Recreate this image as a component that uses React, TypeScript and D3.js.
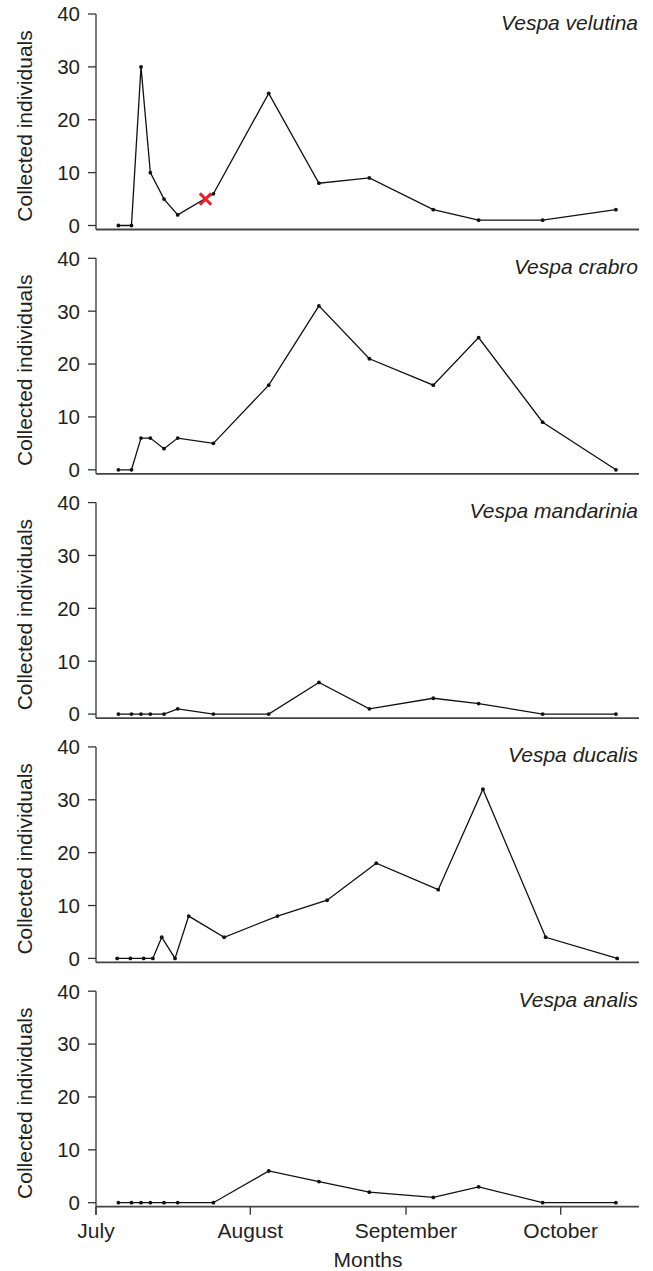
import React from "react";
import * as d3 from "d3";

// ---- data ----
const species = ["Vespa velutina", "Vespa crabro", "Vespa mandarinia", "Vespa ducalis", "Vespa analis"];

// sampling dates (month-day hour)
const datesCommon = [
  "07-05 12", "07-08 03", "07-10 01", "07-11 22", "07-14 16", "07-17 10", "07-24 14",
  "08-04 16", "08-14 16", "08-24 17", "09-06 07", "09-15 02", "09-27 12", "10-11 17",
];
const datesDucalis = [
  "07-05 06", "07-07 22", "07-10 14", "07-12 10", "07-14 05", "07-16 21", "07-19 15", "07-26 18",
  "08-06 10", "08-16 07", "08-26 02", "09-07 06", "09-15 22", "09-28 02", "10-11 23",
];

const velutina = [0, 0, 30, 10, 5, 2, 6, 25, 8, 9, 3, 1, 1, 3];
const crabro = [0, 0, 6, 6, 4, 6, 5, 16, 31, 21, 16, 25, 9, 0];
const mandarinia = [0, 0, 0, 0, 0, 1, 0, 0, 6, 1, 3, 2, 0, 0];
const ducalis = [0, 0, 0, 0, 4, 0, 8, 4, 8, 11, 18, 13, 32, 4, 0];
const analis = [0, 0, 0, 0, 0, 0, 0, 6, 4, 2, 1, 3, 0, 0];

const seriesValues = [velutina, crabro, mandarinia, ducalis, analis];
const seriesDates = [datesCommon, datesCommon, datesCommon, datesDucalis, datesCommon];

// red marker on Vespa velutina
const markerDate = "07-23 00";
const markerValue = 5;

const monthTicks = ["07-01 00", "08-01 00", "09-01 00", "10-01 00"];
const monthLabels = ["July", "August", "September", "October"];
const yTicks = [0, 10, 20, 30, 40];

const parse = d3.timeParse("%m-%d %H");

// ---- layout ----
const W = 653;
const H = 1271;
const axisX = 96;
const axisRight = 639;
const top0 = 14;
const step = 244.3;
const plotH = 211.5;
const gap = 4;
const FONT = "'Liberation Sans', Arial, Helvetica, sans-serif";
const textColor = "#231f20";

const x = d3
  .scaleTime()
  .domain(monthTicks.map((d) => parse(d) as Date))
  .range([96, 250.3, 406, 560.7]);

export default function App() {
  return (
    <svg
      width={W}
      height={H}
      style={{ position: "absolute", left: 0, top: 0, background: "#fff" }}
      fontFamily={FONT}
    >
      {species.map((name, i) => {
        const top = top0 + step * i;
        const y = d3.scaleLinear().domain([0, 40]).range([top + plotH, top]);
        const baseY = y(0) + gap;
        const pts = seriesDates[i].map((d, k) => [x(parse(d) as Date), y(seriesValues[i][k])] as [number, number]);
        const line = d3.line()(pts) || "";
        const isLast = i === species.length - 1;
        return (
          <g key={name}>
            {/* y axis */}
            <line
              x1={axisX}
              x2={axisX}
              y1={y(40)}
              y2={isLast ? baseY + 8 : baseY}
              stroke="#333"
              strokeWidth={1.3}
            />
            {yTicks.map((t) => (
              <g key={t}>
                <line x1={axisX - 8} x2={axisX} y1={y(t)} y2={y(t)} stroke="#333" strokeWidth={1.3} />
                <text
                  x={axisX - 16}
                  y={y(t)}
                  dy="0.36em"
                  textAnchor="end"
                  fontSize={20.5}
                  fill={textColor}
                >
                  {t}
                </text>
              </g>
            ))}
            {/* x axis line */}
            <line x1={axisX} x2={axisRight} y1={baseY} y2={baseY} stroke="#444" strokeWidth={1.8} />
            {/* y label */}
            <text
              transform={`translate(32,${top + 112}) rotate(-90)`}
              textAnchor="middle"
              fontSize={21}
              fill={textColor}
            >
              Collected individuals
            </text>
            {/* title */}
            <text
              x={638}
              y={top + 15.5}
              textAnchor="end"
              fontSize={21}
              fontStyle="italic"
              fill={textColor}
            >
              {name}
            </text>
            {/* data */}
            <path d={line} fill="none" stroke="#111" strokeWidth={1.3} />
            {pts.map((p, k) => (
              <circle key={k} cx={p[0]} cy={p[1]} r={1.9} fill="#111" />
            ))}
            {i === 0 && (
              <path
                d={d3.symbol(d3.symbolTimes, 85)() || ""}
                transform={`translate(${x(parse(markerDate) as Date)},${y(markerValue)})`}
                fill="none"
                stroke="#e8202a"
                strokeWidth={3}
              />
            )}
            {isLast && (
              <g>
                {monthTicks.map((m, k) => {
                  const xx = x(parse(m) as Date);
                  return (
                    <g key={m}>
                      <line x1={xx} x2={xx} y1={baseY} y2={baseY + 8} stroke="#333" strokeWidth={1.3} />
                      <text x={xx} y={1238} textAnchor="middle" fontSize={21} fill={textColor}>
                        {monthLabels[k]}
                      </text>
                    </g>
                  );
                })}
                <text x={368} y={1267} textAnchor="middle" fontSize={21} fill={textColor}>
                  Months
                </text>
              </g>
            )}
          </g>
        );
      })}
    </svg>
  );
}
